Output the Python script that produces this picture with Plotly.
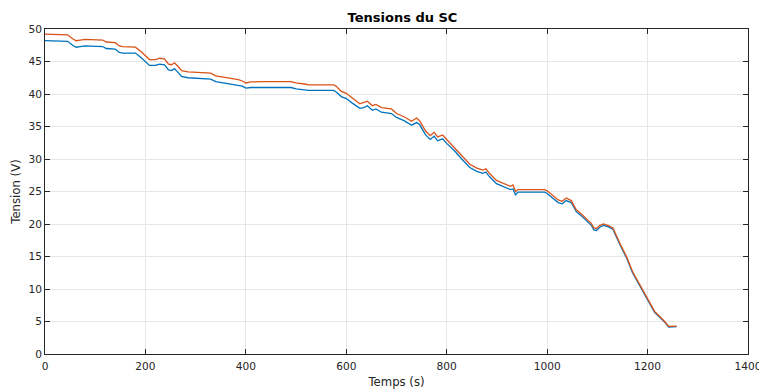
import plotly.graph_objects as go

temps = [0, 35, 45, 55, 62, 70, 80, 115, 122, 140, 148, 155, 180, 190, 200, 208, 220, 228, 238, 246,
         252, 258, 264, 272, 285, 310, 330, 340, 355, 370, 385, 393, 400, 410, 430, 490, 500, 520, 525,
         575, 580, 590, 600, 612, 627, 635, 642, 652, 659, 670, 690, 700, 715, 730, 740, 746, 758, 767,
         775, 782, 792, 800, 815, 830, 846, 860, 872, 878, 885, 899, 915, 927, 932, 937, 942, 995, 1000,
         1010, 1022, 1030, 1038, 1048, 1058, 1066, 1078, 1088, 1093, 1098, 1105, 1112, 1121, 1131, 1145,
         1158, 1170, 1185, 1198, 1214, 1234, 1242, 1258]

tension_haute = [49.2, 49.2, 49.1, 48.5, 48.2, 48.3, 48.4, 48.3, 48.0, 47.9, 47.4, 47.3, 47.2, 46.6, 45.8,
                 45.3, 45.3, 45.5, 45.4, 44.6, 44.5, 44.8, 44.3, 43.6, 43.4, 43.3, 43.2, 42.8, 42.6, 42.5,
                 42.2, 42.0, 41.7, 41.85, 41.9, 41.9, 41.7, 41.5, 41.4, 41.4, 41.2, 40.4, 40.1, 39.4, 38.5,
                 38.7, 38.9, 38.2, 38.4, 37.9, 37.7, 37.0, 36.5, 35.8, 36.3, 35.9, 34.3, 33.6, 34.1, 33.4,
                 33.7, 33.0, 31.8, 30.5, 29.2, 28.6, 28.3, 28.5, 27.8, 26.7, 26.2, 25.8, 26.0, 25.0, 25.3,
                 25.3, 25.1, 24.5, 23.7, 23.5, 24.0, 23.6, 22.2, 21.7, 20.8, 20.1, 19.4, 19.3, 19.8, 20.0,
                 19.8, 19.4, 17.0, 15.0, 12.7, 10.6, 8.6, 6.55, 5.0, 4.25, 4.3]

tension_basse = [48.2, 48.2, 48.1, 47.5, 47.2, 47.3, 47.4, 47.3, 47.0, 46.9, 46.4, 46.3, 46.3, 45.7, 44.9,
                 44.4, 44.4, 44.6, 44.5, 43.7, 43.6, 43.9, 43.4, 42.7, 42.5, 42.4, 42.3, 41.9, 41.7, 41.6,
                 41.3, 41.2, 40.9, 41.0, 41.0, 41.0, 40.8, 40.6, 40.55, 40.55, 40.3, 39.6, 39.3, 38.6, 37.8,
                 37.9, 38.2, 37.5, 37.7, 37.2, 37.0, 36.4, 35.9, 35.2, 35.6, 35.3, 33.7, 33.0, 33.5, 32.8,
                 33.1, 32.4, 31.3, 30.0, 28.7, 28.1, 27.8, 28.0, 27.3, 26.2, 25.7, 25.3, 25.4, 24.5, 24.9,
                 24.9, 24.7, 24.1, 23.3, 23.1, 23.6, 23.3, 21.9, 21.4, 20.5, 19.8, 19.1, 19.0, 19.5, 19.8,
                 19.6, 19.2, 16.8, 14.8, 12.5, 10.4, 8.45, 6.4, 4.9, 4.15, 4.2]

x_ticks = [0, 200, 400, 600, 800, 1000, 1200, 1400]
y_ticks = [0, 5, 10, 15, 20, 25, 30, 35, 40, 45, 50]

FONT = "DejaVu Sans"
W, H = 759, 381  # page has an 8px body margin

fig = go.Figure()
fig.add_trace(go.Scatter(x=temps, y=tension_basse, mode="lines",
                         line=dict(color="#0072BD", width=1.3), showlegend=False))
fig.add_trace(go.Scatter(x=temps, y=tension_haute, mode="lines",
                         line=dict(color="#D95319", width=1.3), showlegend=False))

axis_common = dict(showgrid=True, gridcolor="#e6e6e6", gridwidth=1,
                   showline=True, linecolor="#262626", linewidth=1, mirror="allticks",
                   ticks="inside", ticklen=5, tickcolor="#262626", zeroline=False,
                   automargin=False,
                   tickfont=dict(family=FONT, size=10.6, color="#262626"))

fig.update_layout(
    width=W, height=H,
    margin=dict(l=37, r=18.5, t=21, b=35, autoexpand=False),
    paper_bgcolor="white", plot_bgcolor="white",
    title=dict(text="Tensions du SC", xref="container", x=394.5 / W, xanchor="center",
               yref="container", y=1 - 9 / H, yanchor="middle",
               font=dict(family=FONT, size=13, weight=700, color="black"), automargin=False),
    xaxis=dict(range=[0, 1400], tickvals=x_ticks, ticklabelstandoff=2,
               title=dict(text="Temps (s)", standoff=8,
                          font=dict(family=FONT, size=11.7, color="#262626")),
               **axis_common),
    yaxis=dict(range=[0, 50], tickvals=y_ticks,
               title=dict(text="Tension (V)", standoff=5,
                          font=dict(family=FONT, size=11.7, color="#262626")),
               **axis_common),
)

fig.write_html("out.html")
